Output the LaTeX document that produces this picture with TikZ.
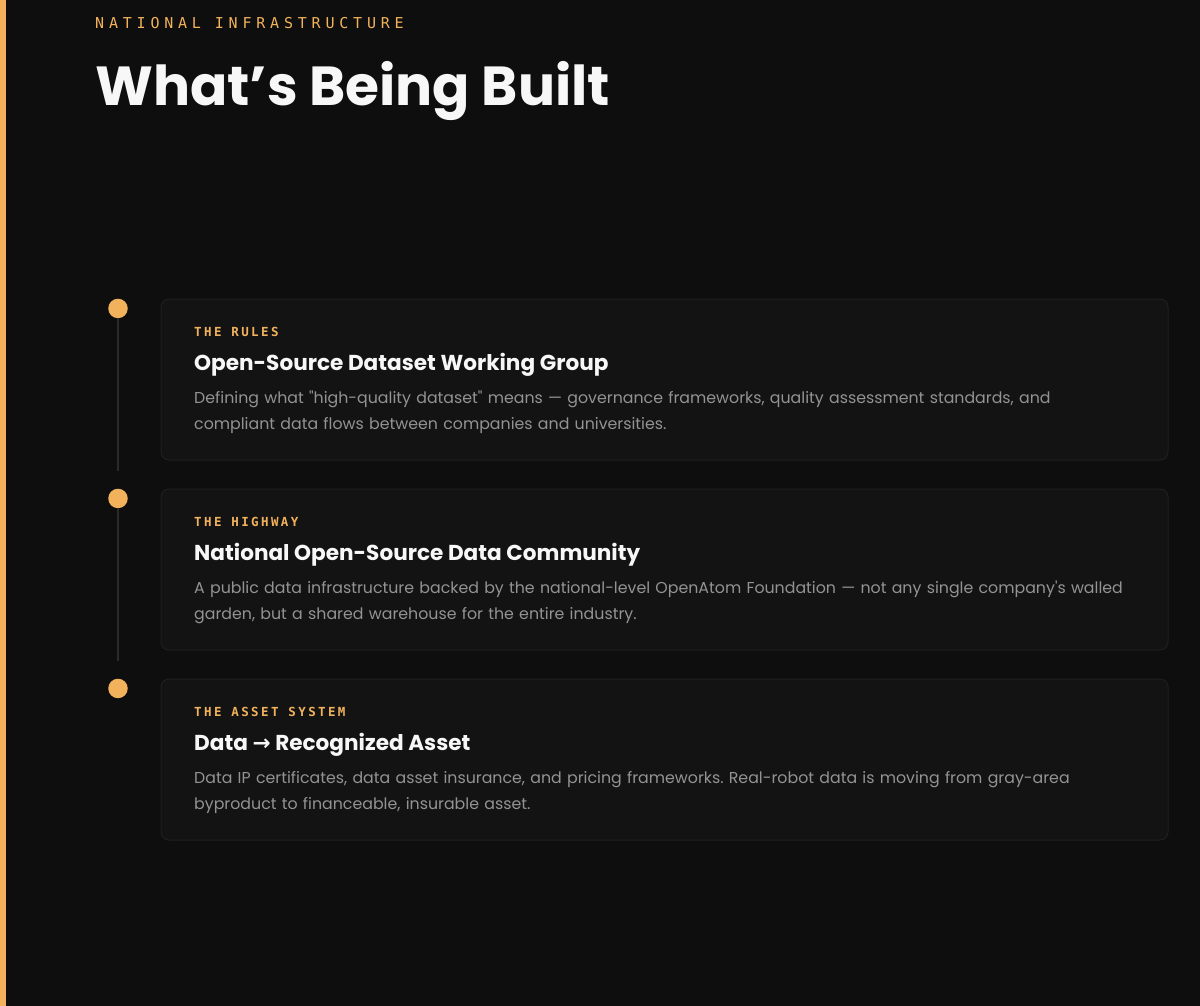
\documentclass[tikz,border=0pt]{standalone}
\usepackage{fontspec}
\setmainfont{Poppins}[Ligatures=TeXOff]
\newfontfamily\headfont{Poppins}
\newfontfamily\arrowfont{DejaVu Sans}
\newfontfamily\kickerfont{DejaVu Sans Mono}[LetterSpace=32]
\newfontfamily\tagfont{DejaVu Sans Mono}[LetterSpace=19]
\usetikzlibrary{positioning}
\frenchspacing

\definecolor{pagebg}{HTML}{0E0E0E}
\definecolor{cardbg}{HTML}{131313}
\definecolor{cardline}{HTML}{1F1F1F}
\definecolor{amber}{HTML}{F2B25C}
\definecolor{railgray}{HTML}{2A2A2A}
\definecolor{bodygray}{HTML}{939393}
\definecolor{titlewhite}{HTML}{F7F7F7}

\begin{document}
\begin{tikzpicture}[%
    x=1pt, y=1pt,
    card/.style={%
        draw=cardline,
        fill=cardbg,
        line width=1pt,
        rounded corners=8pt,
        inner sep=0pt,
        minimum width=1007pt,
        minimum height=161pt,
        node distance=28pt
    },
    dot/.style={%
        circle,
        fill=amber,
        inner sep=0pt,
        minimum size=19.5pt
    },
    tag/.style={%
        anchor=base west,
        inner sep=0pt,
        text=amber,
        font=\tagfont\bfseries\fontsize{12.5}{12.5}\selectfont
    },
    heading/.style={%
        anchor=base west,
        inner sep=0pt,
        text=titlewhite,
        font=\headfont\bfseries\fontsize{21.6}{21.6}\selectfont
    },
    blurb/.style={%
        anchor=base west,
        inner sep=0pt,
        text=bodygray,
        text width=975pt,
        align=left,
        font=\fontsize{15.8}{26}\selectfont
    },
    rail/.style={%
        draw=railgray,
        line width=2pt
    }
]

% Page
\useasboundingbox (0,0) rectangle (1200,-1006);
\fill[pagebg] (0,0) rectangle (1200,-1006);
\fill[amber] (0,0) rectangle (6,-1006);

% Header
\node[anchor=base west, inner sep=0pt, text=amber,
      font=\kickerfont\fontsize{15}{15}\selectfont] (kicker) at (95,-29) {NATIONAL INFRASTRUCTURE};
\node[anchor=base west, inner sep=0pt, text=titlewhite,
      font=\headfont\bfseries\fontsize{55}{55}\selectfont] (title) at (95,-106) {What’s Being Built};

% Cards
\node[card, anchor=north west] (rules) at (160.5,-298.5) {};
\node[card, below=of rules] (highway) {};
\node[card, below=of highway] (asset) {};

% Timeline dots
\node[dot, anchor=north] (dot1) at ([xshift=-42.5pt]rules.north west) {};
\node[dot, anchor=north] (dot2) at ([xshift=-42.5pt]highway.north west) {};
\node[dot, anchor=north] (dot3) at ([xshift=-42.5pt]asset.north west) {};

% Rails
\draw[rail] (dot1.south) -- ([yshift=-10pt]dot1 |- rules.south);
\draw[rail] (dot2.south) -- ([yshift=-10pt]dot2 |- highway.south);

% Card 1 text
\node[tag] (rulestag) at ([xshift=33.5pt, yshift=-38pt]rules.north west) {THE RULES};
\node[heading] (rulestitle) at ([xshift=33.5pt, yshift=-71.5pt]rules.north west) {Open-Source Dataset Working Group};
\node[blurb] (rulesbody) at ([xshift=33.5pt, yshift=-105pt]rules.north west)
    {Defining what "high-quality dataset" means — governance frameworks, quality assessment standards, and\\
     compliant data flows between companies and universities.};

% Card 2 text
\node[tag] (highwaytag) at ([xshift=33.5pt, yshift=-38pt]highway.north west) {THE HIGHWAY};
\node[heading] (highwaytitle) at ([xshift=33.5pt, yshift=-71.5pt]highway.north west) {National Open-Source Data Community};
\node[blurb] (highwaybody) at ([xshift=33.5pt, yshift=-105pt]highway.north west)
    {A public data infrastructure backed by the national-level OpenAtom Foundation — not any single company's walled\\
     garden, but a shared warehouse for the entire industry.};

% Card 3 text
\node[tag] (assettag) at ([xshift=33.5pt, yshift=-38pt]asset.north west) {THE ASSET SYSTEM};
\node[heading] (assettitle) at ([xshift=33.5pt, yshift=-71.5pt]asset.north west) {Data {\arrowfont →} Recognized Asset};
\node[blurb] (assetbody) at ([xshift=33.5pt, yshift=-105pt]asset.north west)
    {Data IP certificates, data asset insurance, and pricing frameworks. Real-robot data is moving from gray-area\\
     byproduct to financeable, insurable asset.};

\end{tikzpicture}
\end{document}
